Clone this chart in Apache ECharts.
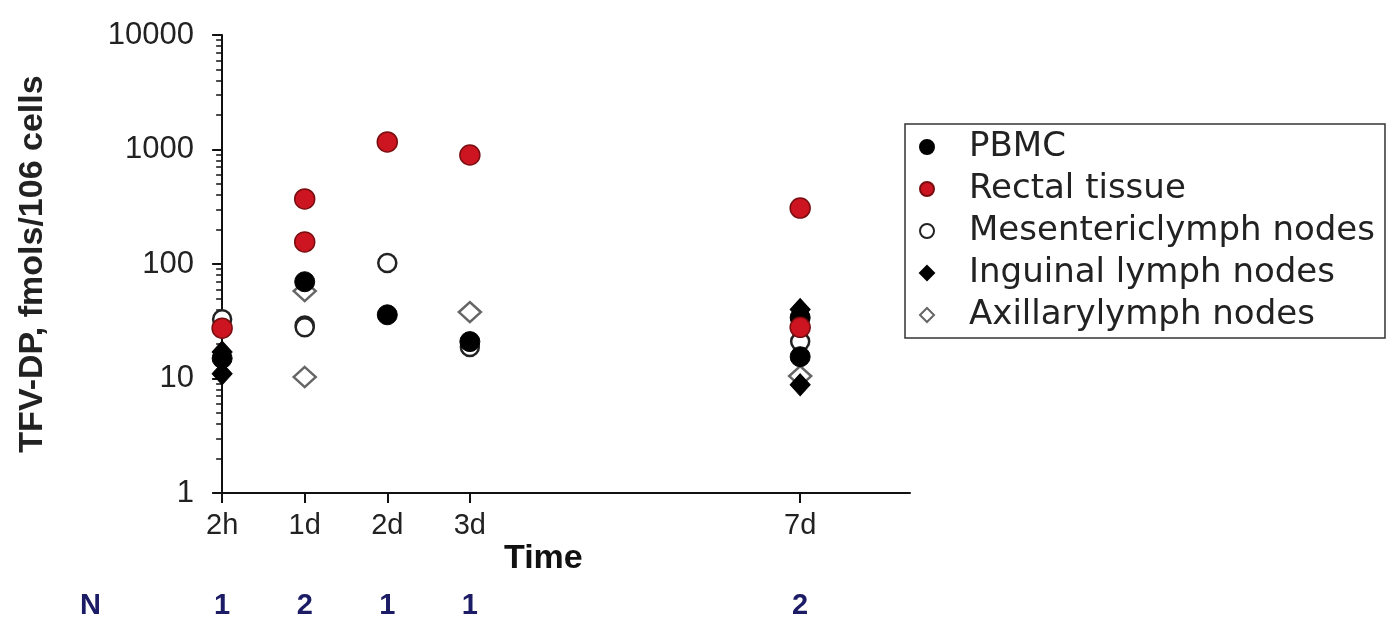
<!DOCTYPE html>
<html>
<head>
<meta charset="utf-8">
<script src="https://cdn.jsdelivr.net/npm/echarts@6/dist/echarts.min.js"></script>
<style>
html,body{margin:0;padding:0;background:#fff;}
#chart{width:1392px;height:620px;}
</style>
</head>
<body>
<div id="chart"></div>
<script>
// ---- data ----
const timeLabels = ['2h', '1d', '2d', '3d', '7d'];
const timePos = [0, 1, 2, 3, 7];
const nCounts = ['1', '2', '1', '1', '2'];
const yTicks = [1, 10, 100, 1000, 10000];

const pbmcTimes = ['2h', '1d', '2d', '3d', '7d', '7d'];
const pbmcValues = [15, 70, 36, 21, 34, 15.5];
const rectalTimes = ['2h', '1d', '1d', '2d', '3d', '7d', '7d'];
const rectalValues = [27.5, 370, 156, 1164, 895, 308, 28];
const mesTimes = ['2h', '1d', '1d', '2d', '3d', '7d'];
const mesValues = [33, 29, 28, 102, 18.8, 21];
const ingTimes = ['2h', '2h', '7d', '7d'];
const ingValues = [17, 11, 40, 8.8];
const axTimes = ['1d', '1d', '3d', '7d'];
const axValues = [58, 10.3, 38, 10.5];

// ---- build ----
function pos(label) { return timePos[timeLabels.indexOf(label)]; }
function pts(times, vals) { return times.map((t, i) => [pos(t), vals[i]]); }
const minorTicks = [];
[1, 10, 100, 1000].forEach(d => { for (let k = 2; k <= 9; k++) minorTicks.push(d * k); });

const FONT = 'Liberation Sans, Arial, sans-serif';
const chart = echarts.init(document.getElementById('chart'));
const symSize = 20;

chart.setOption({
  backgroundColor: '#ffffff',
  animation: false,
  grid: { left: 218, right: 482, top: 35, bottom: 127, containLabel: false },
  xAxis: [{
    type: 'value', min: -0.05, max: 8.33,
    axisLine: { show: true, lineStyle: { color: '#111', width: 2 } },
    axisTick: { show: true, inside: false, length: 10, customValues: timePos, lineStyle: { color: '#111', width: 2 } },
    axisLabel: { customValues: timePos, margin: 18, color: '#222', fontSize: 29, fontFamily: FONT,
      formatter: v => timeLabels[timePos.indexOf(Math.round(v))] || '' },
    splitLine: { show: false }
  }, {
    type: 'value', min: -0.05, max: 8.33, position: 'bottom',
    axisLine: { show: false }, axisTick: { show: false },
    axisLabel: { customValues: timePos, margin: 98, color: '#1c1c66', fontSize: 29, fontWeight: 'bold', fontFamily: FONT,
      formatter: v => nCounts[timePos.indexOf(Math.round(v))] || '' },
    splitLine: { show: false }
  }],
  yAxis: [{
    type: 'log', logBase: 10, min: 1, max: 10000,
    name: 'TFV-DP, fmols/106 cells', nameLocation: 'middle', nameGap: 168,
    nameTextStyle: { fontSize: 34, fontWeight: 'bold', color: '#222', fontFamily: FONT },
    axisLine: { show: true, lineStyle: { color: '#111', width: 2 } },
    axisTick: { show: true, inside: false, length: 10, customValues: yTicks, lineStyle: { color: '#111', width: 2 } },
    axisLabel: { customValues: yTicks, margin: 24, color: '#222', fontSize: 31, fontFamily: FONT,
      formatter: v => String(Math.round(v)) },
    splitLine: { show: false }
  }, {
    type: 'log', logBase: 10, min: 1, max: 10000, position: 'left',
    axisLine: { show: false },
    axisTick: { show: true, inside: false, length: 6, customValues: minorTicks, lineStyle: { color: '#111', width: 1.5 } },
    axisLabel: { show: false },
    splitLine: { show: false }
  }],
  legend: {
    orient: 'vertical', left: 905, top: 124,
    padding: [6, 10, 6, 14],
    borderColor: '#333', borderWidth: 1.5,
    itemWidth: 14, itemHeight: 14, itemGap: 8,
    textStyle: { fontSize: 34, color: '#222', fontFamily: 'DejaVu Sans, sans-serif', lineHeight: 34, padding: [0, 0, 0, 30] },
    data: [
      { name: 'PBMC', icon: 'circle' },
      { name: 'Rectal tissue', icon: 'circle' },
      { name: 'Mesentericlymph nodes', icon: 'circle' },
      { name: 'Inguinal lymph nodes', icon: 'diamond' },
      { name: 'Axillarylymph nodes', icon: 'diamond' }
    ]
  },
  graphic: [
    { type: 'text', left: 504, top: 542, style: { text: 'Time', fontSize: 34, fontWeight: 'bold', fill: '#111', fontFamily: FONT } },
    { type: 'text', left: 80, top: 591, style: { text: 'N', fontSize: 29, fontWeight: 'bold', fill: '#1c1c66', fontFamily: FONT } }
  ],
  series: [
    { name: 'PBMC', type: 'scatter', z: 4, symbol: 'circle', symbolSize: symSize,
      itemStyle: { color: '#000', borderColor: '#000', borderWidth: 1, opacity: 1 },
      data: pts(pbmcTimes, pbmcValues) },
    { name: 'Rectal tissue', type: 'scatter', z: 6, symbol: 'circle', symbolSize: symSize,
      itemStyle: { color: '#cc1520', borderColor: '#7a0d10', borderWidth: 1.5, opacity: 1 },
      data: pts(rectalTimes, rectalValues) },
    { name: 'Mesentericlymph nodes', type: 'scatter', z: 3, symbol: 'circle', symbolSize: symSize - 2,
      itemStyle: { color: '#fff', borderColor: '#222', borderWidth: 2.5, opacity: 1 },
      data: pts(mesTimes, mesValues) },
    { name: 'Inguinal lymph nodes', type: 'scatter', z: 5, symbol: 'diamond', symbolSize: [20, 22],
      itemStyle: { color: '#000', borderColor: '#000', borderWidth: 1, opacity: 1 },
      data: pts(ingTimes, ingValues) },
    { name: 'Axillarylymph nodes', type: 'scatter', z: 2, symbol: 'diamond', symbolSize: [22, 20],
      itemStyle: { color: '#fff', borderColor: '#666', borderWidth: 2.5, opacity: 1 },
      data: pts(axTimes, axValues) }
  ]
});
</script>
</body>
</html>
